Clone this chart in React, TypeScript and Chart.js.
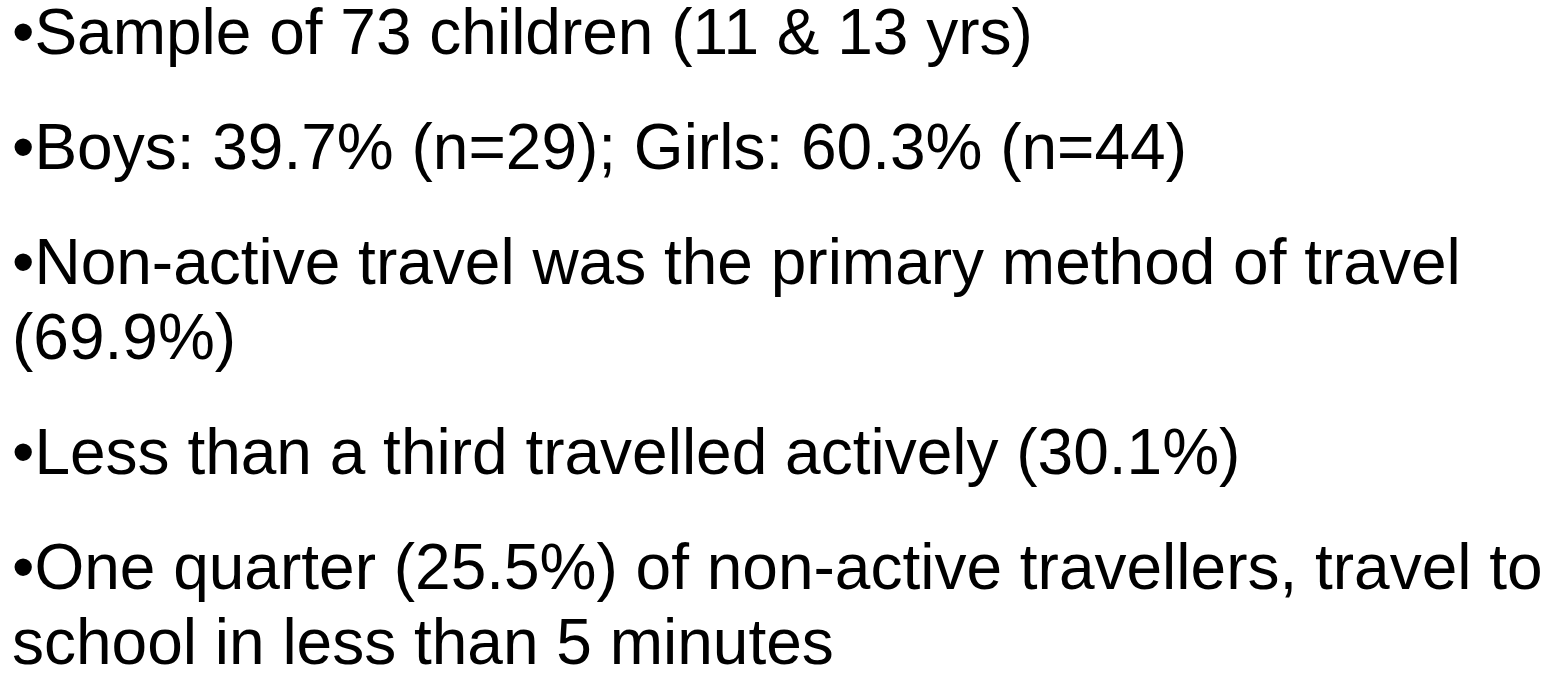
import React, { useEffect, useRef } from "react";
import { Chart, registerables } from "chart.js";

Chart.register(...registerables);

// Bullet paragraphs (each inner array = the visual lines of one paragraph)
const bulletPrefix = "\u2022";
const paragraphs: string[][] = [
  ["Sample of 73 children (11 & 13 yrs)"],
  ["Boys: 39.7% (n=29); Girls: 60.3% (n=44)"],
  ["Non-active travel was the primary method of travel", "(69.9%)"],
  ["Less than a third travelled actively (30.1%)"],
  ["One quarter (25.5%) of non-active travellers, travel to", "school in less than 5 minutes"],
];

export default function App() {
  const canvasRef = useRef<HTMLCanvasElement | null>(null);

  useEffect(() => {
    if (!canvasRef.current) return;
    const chart = new Chart(canvasRef.current, {
      type: "scatter",
      data: { datasets: [{ data: [] }] },
      options: {
        animation: false,
        responsive: false,
        events: [],
        plugins: { legend: { display: false }, tooltip: { enabled: false }, title: { display: false } },
        scales: { x: { display: false }, y: { display: false } },
      },
    });
    return () => chart.destroy();
  }, []);

  return (
    <div style={{ position: "fixed", left: 0, top: 0, width: 1555, height: 673, overflow: "hidden", background: "#fff" }}>
      <canvas ref={canvasRef} width={1555} height={673} style={{ position: "absolute", left: 0, top: 0 }} />
      <div
        style={{
          position: "absolute",
          left: 12,
          top: -5,
          fontFamily: "'Liberation Sans', Arial, sans-serif",
          fontSize: 64,
          lineHeight: "75px",
          color: "#000",
          whiteSpace: "nowrap",
        }}
      >
        {paragraphs.map((lines, i) => (
          <div key={i} style={{ marginBottom: 40 }}>
            {lines.map((ln, j) => (
              <div key={j}>{(j === 0 ? bulletPrefix : "") + ln}</div>
            ))}
          </div>
        ))}
      </div>
    </div>
  );
}
